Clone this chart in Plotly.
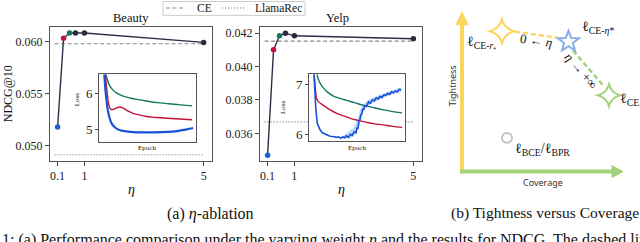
import plotly.graph_objects as go
import math

W, H = 640, 242
SERIF = "Liberation Serif"
SANS = "Noto Sans"

# ---------------- data: eta ablation ----------------
eta = [0.1, 0.3, 0.5, 0.7, 1, 5]
beauty_ndcg = [0.0518, 0.0603, 0.0608, 0.0608, 0.0608, 0.0599]
yelp_ndcg = [0.03469, 0.0410, 0.04184, 0.0420, 0.04184, 0.04166]
point_colors = ["#1f5fd6", "#c4123c", "#14765f", "#2a2a3e", "#2a2a3e", "#2a2a3e"]

baseline_x = [0, 5]
beauty_ce = [0.05978, 0.05978]
yelp_ce = [0.04152, 0.04152]
beauty_llamarec = [0.04914, 0.04914]
yelp_llamarec = [0.03669, 0.03669]

x_tickvals = [0.1, 1, 5]
x_ticktext = ["0.1", "1", "5"]
beauty_yticks = [0.050, 0.055, 0.060]
yelp_yticks = [0.036, 0.038, 0.040, 0.042]

# ---------------- data: inset loss curves ----------------
b_teal_ep = [3, 5, 7, 9, 11, 14, 18, 25, 32, 39, 50, 60, 72, 84, 96]
b_teal = [7.6, 6.95, 6.55, 6.35, 6.22, 6.11, 6.02, 5.93, 5.88, 5.84, 5.79, 5.75, 5.72, 5.69, 5.66]
b_red_ep = [3, 5, 7, 8.5, 10, 12, 14, 17, 21, 25, 29, 34, 40, 49, 60, 70, 83, 96]
b_red = [7.8, 7.0, 6.4, 6.0, 5.70, 5.57, 5.56, 5.59, 5.63, 5.60, 5.53, 5.47, 5.42, 5.37, 5.34, 5.32, 5.30, 5.28]
b_blue_ep = [3, 5, 7, 9, 11, 13, 16, 19, 23, 28, 35, 45, 55, 65, 75, 82, 88, 93, 97]
b_blue = [7.6, 6.7, 6.0, 5.55, 5.32, 5.18, 5.08, 5.02, 4.98, 4.96, 4.94, 4.93, 4.93, 4.935, 4.95, 4.97, 5.0, 5.03, 5.05]

y_teal_ep = [6, 8, 10, 12, 15, 19, 25, 32, 39, 48, 57, 66, 75, 86, 97]
y_teal = [7.5, 7.25, 7.1, 7.02, 6.94, 6.86, 6.78, 6.73, 6.69, 6.64, 6.59, 6.55, 6.51, 6.47, 6.44]
y_red_ep = [4, 5.5, 7, 8, 10, 15, 22, 29, 36, 43, 51, 60, 68, 77, 87, 97]
y_red = [7.8, 7.2, 6.85, 6.72, 6.66, 6.59, 6.50, 6.43, 6.38, 6.33, 6.29, 6.25, 6.22, 6.20, 6.17, 6.15]
y_blue_ep = [5, 6, 7, 8.6, 10, 11.5, 14, 18, 22, 26, 29, 31, 33, 35, 37, 39, 41, 43, 45, 47,
             49, 50, 51, 52, 53, 54, 55, 56, 57, 58, 60, 62, 64, 66, 68, 70, 72, 74, 76, 78,
             80, 82, 84, 86, 88, 90, 92, 94, 96]
y_blue = [7.3, 6.9, 6.55, 6.23, 6.15, 6.10, 6.04, 6.00, 5.97, 5.96, 5.95, 5.96, 5.93, 5.96, 5.94, 5.98, 5.95, 6.01, 5.99, 6.06,
          6.04, 6.15, 6.12, 6.27, 6.30, 6.40, 6.42, 6.52, 6.50, 6.58, 6.57, 6.66, 6.63, 6.70, 6.68, 6.74, 6.72, 6.77, 6.75, 6.80,
          6.79, 6.83, 6.81, 6.86, 6.84, 6.88, 6.86, 6.91, 6.90]
y_band_ep = [34, 38, 42, 46, 48, 50, 52, 54, 56, 58, 60, 64, 68, 72, 76, 80, 84, 88, 92, 96]
y_band_lo = [5.93, 5.92, 5.93, 5.96, 6.00, 6.06, 6.16, 6.31, 6.43, 6.51, 6.55, 6.61, 6.65, 6.69, 6.73, 6.76, 6.79, 6.81, 6.84, 6.86]
y_band_hi = [5.97, 6.01, 6.08, 6.13, 6.20, 6.28, 6.42, 6.54, 6.60, 6.64, 6.67, 6.72, 6.75, 6.78, 6.82, 6.85, 6.88, 6.90, 6.93, 6.95]

TEAL, RED, BLUE = "#13775f", "#c2143c", "#1652d8"
LINE = "#2e2e46"


def px(x):
    return x / W


def py(y):
    return 1 - y / H


fig = go.Figure()

for xa, ya, vals, ce, ll in [("x", "y", beauty_ndcg, beauty_ce, beauty_llamarec),
                             ("x2", "y2", yelp_ndcg, yelp_ce, yelp_llamarec)]:
    fig.add_trace(go.Scatter(x=baseline_x, y=ce, xaxis=xa, yaxis=ya, mode="lines",
                             line=dict(color="#8a8a8a", width=1.1, dash="4px,2.5px"), hoverinfo="skip"))
    fig.add_trace(go.Scatter(x=baseline_x, y=ll, xaxis=xa, yaxis=ya, mode="lines",
                             line=dict(color="#777777", width=1.1, dash="1px,2px"), hoverinfo="skip"))
    fig.add_trace(go.Scatter(x=eta, y=vals, xaxis=xa, yaxis=ya, mode="lines+markers",
                             line=dict(color=LINE, width=1.4),
                             marker=dict(color=point_colors, size=5.5)))

fig.add_trace(go.Scatter(x=b_teal_ep, y=b_teal, xaxis="x3", yaxis="y3", mode="lines",
                         line=dict(color=TEAL, width=1.4, shape="spline")))
fig.add_trace(go.Scatter(x=b_red_ep, y=b_red, xaxis="x3", yaxis="y3", mode="lines",
                         line=dict(color=RED, width=1.4, shape="spline")))
fig.add_trace(go.Scatter(x=b_blue_ep, y=b_blue, xaxis="x3", yaxis="y3", mode="lines",
                         line=dict(color=BLUE, width=2.2, shape="spline")))

fig.add_trace(go.Scatter(x=y_band_ep, y=y_band_lo, xaxis="x4", yaxis="y4", mode="lines",
                         line=dict(width=0, color="rgba(0,0,0,0)")))
fig.add_trace(go.Scatter(x=y_band_ep, y=y_band_hi, xaxis="x4", yaxis="y4", mode="lines",
                         line=dict(width=0, color="rgba(0,0,0,0)"), fill="tonexty",
                         fillcolor="rgba(40,110,235,0.28)"))
fig.add_trace(go.Scatter(x=y_teal_ep, y=y_teal, xaxis="x4", yaxis="y4", mode="lines",
                         line=dict(color=TEAL, width=1.4, shape="spline")))
fig.add_trace(go.Scatter(x=y_red_ep, y=y_red, xaxis="x4", yaxis="y4", mode="lines",
                         line=dict(color=RED, width=1.4, shape="spline")))
fig.add_trace(go.Scatter(x=y_blue_ep, y=y_blue, xaxis="x4", yaxis="y4", mode="lines",
                         line=dict(color=BLUE, width=1.6)))

frame = dict(showline=True, mirror=True, linecolor="#555555", linewidth=1,
             showgrid=False, zeroline=False)
main_x = dict(frame, range=[-0.155, 5.28], tickvals=x_tickvals, ticktext=x_ticktext,
              ticks="outside", ticklen=4, tickcolor="#444", tickwidth=1,
              tickfont=dict(family=SERIF, size=12, color="#222"))
main_y = dict(frame, ticks="outside", ticklen=4, tickcolor="#444", tickwidth=1,
              tickformat=".3f", tickfont=dict(family=SERIF, size=12, color="#222"))
inset_x = dict(frame, range=[0, 100], showticklabels=False, ticks="")
inset_y = dict(frame, ticks="outside", ticklen=3, tickcolor="#444", tickwidth=1,
               tickfont=dict(family=SERIF, size=13, color="#222"))

fig.update_layout(
    width=W, height=H, autosize=False, margin=dict(l=0, r=0, t=0, b=0),
    paper_bgcolor="white", plot_bgcolor="white", showlegend=False,
    font=dict(family=SERIF),
    xaxis=dict(main_x, domain=[50 / W, 212 / W], anchor="y"),
    yaxis=dict(main_y, domain=[py(162), py(27)], range=[0.04857, 0.0614],
               tickvals=beauty_yticks, anchor="x"),
    xaxis2=dict(main_x, domain=[260 / W, 421.7 / W], anchor="y2"),
    yaxis2=dict(main_y, domain=[py(162), py(27)], range=[0.03437, 0.04238],
                tickvals=yelp_yticks, anchor="x2"),
    xaxis3=dict(inset_x, domain=[99 / W, 196 / W], anchor="y3"),
    yaxis3=dict(inset_y, domain=[py(143), py(75)], range=[4.67, 6.53], tickvals=[5, 6], anchor="x3"),
    xaxis4=dict(inset_x, domain=[309 / W, 405 / W], anchor="y4"),
    yaxis4=dict(inset_y, domain=[py(142), py(75)], range=[5.88, 7.21], tickvals=[6, 7], anchor="x4"),
)

ann = []


def text(x, y, s, size, family=SERIF, xanchor="center", angle=0, color="#111"):
    ann.append(dict(x=px(x), y=py(y), xref="paper", yref="paper", text=s, showarrow=False,
                    xanchor=xanchor, yanchor="middle", textangle=angle, borderpad=0,
                    font=dict(family=family, size=size, color=color)))


text(131, 18, "Beauty", 12.5)
text(337, 18, "Yelp", 12.5)
text(131, 191, "<i>η</i>", 14)
text(341, 191, "<i>η</i>", 14)
text(8, 95, "NDCG@10", 12, angle=-90)
text(77, 100, "Loss", 7, angle=-90)
text(283, 108, "Loss", 7, angle=-90)
text(147, 149, "Epoch", 7)
text(357, 149, "Epoch", 7)

text(196, 8, "CE", 11.5, xanchor="left")
text(254, 8, "LlamaRec", 11.5, xanchor="left")

text(210, 216, "(a) <i>η</i>-ablation", 16)
text(640, 215, "(b) Tightness versus Coverage", 15.5, xanchor="right")
text(1, 242, "1: (a) Performance comparison under the varying weight <i>η</i> and the results for NDCG. The dashed line",
     16, xanchor="left")

text(466, 43, "ℓ<sub>CE-<i>r</i>₊</sub>", 14, xanchor="left")
text(536, 41, "0 ← <i>η</i>", 13, angle=8)
text(581, 28, "ℓ<sub>CE-<i>η</i>*</sub>", 14, xanchor="left")
text(581, 71, "<i>η</i> → +∞", 13, angle=49)
text(619, 100, "ℓ<sub>CE</sub>", 14, xanchor="left")
text(514, 151, "ℓ<sub>BCE</sub>/ℓ<sub>BPR</sub>", 14, xanchor="left")
text(452, 87, "Tightness", 9, family=SANS, angle=-90, color="#333")
text(543, 184, "Coverage", 9, family=SANS, color="#333")

fig.update_layout(annotations=ann)

shapes = []


def pline(x0, y0, x1, y1, color, width, dash="solid"):
    shapes.append(dict(type="line", xref="paper", yref="paper", x0=px(x0), y0=py(y0),
                       x1=px(x1), y1=py(y1), line=dict(color=color, width=width, dash=dash),
                       layer="above"))


def ppath(cmds, color, width, fill="rgba(0,0,0,0)"):
    shapes.append(dict(type="path", xref="paper", yref="paper", path=cmds,
                       line=dict(color=color, width=width), fillcolor=fill, layer="above"))


def P(x, y):
    return f"{px(x):.5f},{py(y):.5f}"


shapes.append(dict(type="rect", xref="paper", yref="paper", x0=px(163), y0=py(15.5), x1=px(305), y1=py(1.5),
                   line=dict(color="#cccccc", width=1), fillcolor="white", layer="below"))
pline(166, 8, 186, 8, "#8a8a8a", 1.1, "4px,2.5px")
pline(222, 8, 246, 8, "#777777", 1.1, "1px,2px")

YEL, GRN, BLU = "#fcd55b", "#a3d27c", "#86aee8"

pline(462, 175, 462, 24, YEL, 4)
ppath(f"M{P(456, 25)} L{P(468, 25)} L{P(462, 12)} Z", YEL, 1, YEL)
pline(460, 173, 613, 173, GRN, 4)
ppath(f"M{P(612, 167)} L{P(612, 179)} L{P(623, 173)} Z", GRN, 1, GRN)

pline(515, 32, 558, 38, YEL, 2.5, "5px,3px")
pline(573, 51, 603, 86, GRN, 2.5, "5px,3px")


def star4(cx, cy, r, k):
    return (f"M{P(cx, cy - r)} Q{P(cx + k, cy - k)} {P(cx + r, cy)} "
            f"Q{P(cx + k, cy + k)} {P(cx, cy + r)} Q{P(cx - k, cy + k)} {P(cx - r, cy)} "
            f"Q{P(cx - k, cy - k)} {P(cx, cy - r)} Z")


ppath(star4(502, 31.5, 12, 2.5), YEL, 2, "white")
ppath(star4(609, 96, 11, 2.3), GRN, 2, "white")

pts = []
for i in range(10):
    ang = -math.pi / 2 + i * math.pi / 5
    rr = 11 if i % 2 == 0 else 4.6
    pts.append((568.5 + rr * math.cos(ang), 42 + rr * math.sin(ang)))
ppath("M" + " L".join(P(a, b) for a, b in pts) + " Z", BLU, 2, "white")

shapes.append(dict(type="circle", xref="paper", yref="paper", x0=px(502), y0=py(144), x1=px(512), y1=py(134),
                   line=dict(color="#c2c2c2", width=2), fillcolor="white", layer="above"))

fig.update_layout(shapes=shapes)

fig.write_html("out.html", config={"displayModeBar": False},
               post_script="document.body.style.margin='0';document.body.style.padding='0';"
                           "document.body.style.overflow='hidden';")
